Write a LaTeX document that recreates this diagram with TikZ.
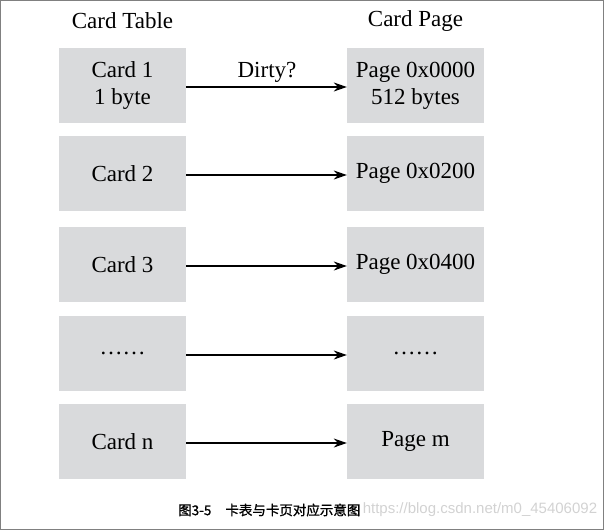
\documentclass[tikz,border=0pt]{standalone}
\usepackage{fontspec}
\setmainfont{Liberation Serif}
\newfontfamily\cjk[FakeBold=1.2]{Noto Sans CJK SC}
\newfontfamily\wmfont{Liberation Sans}
\usetikzlibrary{arrows.meta}
\definecolor{cardgray}{RGB}{217,218,220}
\tikzset{
  cell/.style={fill=cardgray, minimum height=75pt, inner sep=0pt, align=center,
    font=\fontsize{23}{27}\selectfont},
  tablecell/.style={cell, minimum width=127pt},
  pagecell/.style={cell, minimum width=137pt},
  header/.style={font=\fontsize{23}{27}\selectfont},
  link/.style={-{Stealth[length=13pt,width=9pt]}, line width=1.1pt},
}
\begin{document}
\begin{tikzpicture}[x=1pt, y=-1pt]
   \useasboundingbox (0,0) rectangle (604,530);
   \draw[gray, line width=1pt] (0.5,0.5) rectangle (603.5,529.5);

   % column titles
   \node[header] (tabletitle) at (122.5,21) {Card Table};
   \node[header] (pagetitle) at (415.5,21) {Card Page};

   % cards and pages
   \foreach \i/\y/\card/\page in {1/85.5/{Card 1\\1 byte}/{Page 0x0000\\512 bytes},
         2/173.5/{Card 2}/{Page 0x0200}, 3/264.5/{Card 3}/{Page 0x0400},
         4/353.5/{……}/{……}, 5/441.5/{Card n}/{Page m}} {
      \node[tablecell] (T\i) at (122.5,\y) {\card};
      \node[pagecell] (P\i) at (415.5,\y) {\page};
      \draw[link] ([yshift=-1.5pt]T\i.east) -- ([yshift=-1.5pt]P\i.west);
   }
   \node[header, inner sep=3pt] (dirty) at (267,72) {Dirty?};

   % caption
   \node[anchor=west, font=\cjk\fontsize{13.5}{15}\selectfont, inner sep=0pt] (caption) at (178,510) {图3-5\hspace{14pt}卡表与卡页对应示意图};
   \node[anchor=west, text=gray!35, font=\wmfont\fontsize{15}{17}\selectfont, inner sep=0pt] (mark) at ([xshift=2pt]caption.east) {https://blog.csdn.net/m0\_45406092};
\end{tikzpicture}
\end{document}
